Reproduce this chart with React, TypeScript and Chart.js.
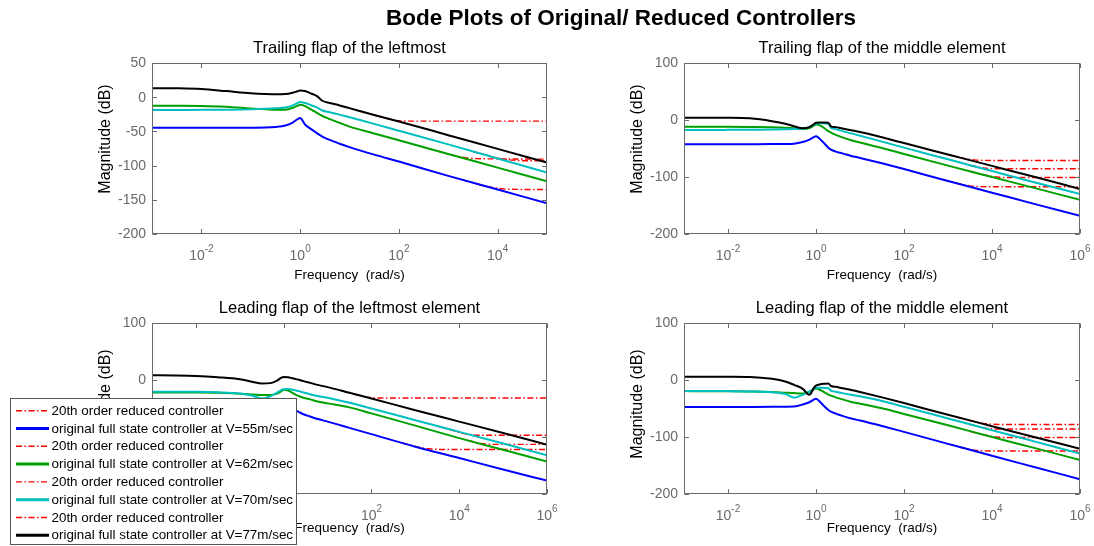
import React, { useEffect, useRef } from 'react';
import { Chart, registerables } from 'chart.js';
Chart.register(...registerables);

const FONT = '"Liberation Sans", Arial, Helvetica, sans-serif';

// Frequency grid (rad/s) shared by the original controllers
const freq = [0.001, 0.00316, 0.01, 0.0316, 0.1, 0.1995, 0.3162, 0.5012, 0.7079, 0.8913, 1, 1.2589, 1.5849, 1.9055, 2.1878, 2.8184, 3.981, 6.3096, 10, 31.62, 100, 1e3, 1e4, 1e5, 1e6];

// Trailing flap of the leftmost (magnitude dB)
const tlBlue = [-44.6, -44.6, -44.6, -44.5, -44.5, -44.3, -43.5, -41.5, -37, -32, -30.5, -40, -45.5, -49.5, -52.5, -57.5, -62.5, -68, -73, -84, -94, -115, -135, -155];
const tlGreen = [-12.4, -12.5, -12.8, -14, -16.5, -17.8, -18.5, -18.3, -15.5, -12.3, -11, -13, -17, -20.5, -23, -27.5, -32, -37.5, -43, -53, -63, -83, -103, -123];
const tlCyan = [-18.7, -18.6, -18.5, -18.3, -17.8, -17, -16.2, -15, -12, -8.5, -7.2, -8.5, -11, -13.3, -15, -19.5, -22, -25.5, -29.4, -39, -49, -69, -89.5, -110];
const tlBlack = [13.2, 13, 12, 9, 5.8, 4.6, 4.2, 4.5, 6.5, 8.8, 9.8, 9.2, 6, 3.8, 1.5, -5.2, -8.5, -12, -16, -26, -35.5, -55.5, -75.5, -95.5];
const tlRedBlueF = [2000, 3981, 7943, 15849, 1e5];
const tlRedBlue = [-121, -127, -132, -134.5, -135];
const tlRedGreenF = [631, 1259, 2512, 5012, 1e5];
const tlRedGreen = [-79, -85, -89, -90, -90.5];
const tlRedCyanF = [3162, 1e4, 2e4, 4e4, 1e5];
const tlRedCyan = [-79.5, -89, -92, -93, -93];
const tlRedBlackF = [15.8, 31.6, 63.1, 100, 200, 1e5];
const tlRedBlack = [-20, -26, -32, -34.5, -35, -35];

// Trailing flap of the middle element
const trBlue = [-42.7, -42.7, -42.6, -42.5, -42.3, -42, -41.5, -38.5, -34.5, -30, -28.5, -34, -42, -48.5, -52, -55.5, -58.5, -63, -66.5, -76, -86, -107, -127.5, -148, -168];
const trGreen = [-11.7, -11.8, -12, -12.3, -12.8, -13.5, -14.3, -15.5, -14, -10, -8, -10, -15, -19.5, -22, -26, -30.5, -35.5, -39.5, -49, -59.5, -80, -100, -120, -140];
const trCyan = [-17.5, -17.5, -17.3, -17, -16.7, -16.4, -16, -15, -12, -8, -6.5, -5.8, -6, -6.5, -13.5, -16, -19.5, -23.5, -27.5, -38, -48.5, -69, -89.5, -110, -130];
const trBlack = [4.1, 4.1, 4, 3, -2, -6.5, -11, -14.5, -12.5, -7.5, -5, -4.6, -4.6, -4.8, -11, -12.5, -15, -18, -21, -30.4, -40.5, -60.5, -80.5, -100.5, -121];
const trRedBlueF = [794, 1585, 3162, 7943, 1e6];
const trRedBlue = [-105, -111, -115.5, -117, -117];
const trRedGreenF = [3162, 6310, 12589, 31623, 1e6];
const trRedGreen = [-90, -96, -100, -101, -101];
const trRedCyanF = [3162, 6310, 12589, 1e6];
const trRedCyan = [-79.5, -84, -85.5, -85.5];
const trRedBlackF = [1000, 2000, 3981, 1e4, 1e6];
const trRedBlack = [-60.5, -66.5, -70, -71, -71];

// Leading flap of the leftmost element
const blBlue = [-46, -46, -46, -46, -46, -45.8, -45.3, -43, -39, -35, -33, -39, -47, -53, -56, -60, -64, -69, -73, -84, -95, -117, -137, -157, -176.5];
const blGreen = [-21.8, -21.8, -22, -22.5, -24, -25.3, -26.3, -26.5, -24, -19.5, -17, -18.5, -22.5, -26, -28, -31, -34, -38, -41, -48, -58.5, -80, -102, -122.5, -143];
const blCyan = [-20.7, -20.7, -20.8, -21.5, -23.5, -27.5, -32.5, -28.5, -22, -17.5, -16.3, -16, -17, -18.3, -19.5, -22, -25, -28.5, -31, -40, -50, -70.5, -91, -111.5, -132];
const blBlack = [8.3, 8, 7.2, 5, 1.5, -3.5, -6.3, -5.5, -1, 4, 5.3, 5, 3, 1.5, 0.5, -2, -5, -9, -12.5, -22.4, -32.5, -53, -73, -93, -113.5];
const blRedBlueF = [501, 1000, 1995, 5012, 1e6];
const blRedBlue = [-110.5, -116.5, -120.5, -122, -122];
const blRedGreenF = [15849, 31623, 63096, 1e6];
const blRedGreen = [-106, -111.5, -113, -113];
const blRedCyanF = [3162, 6310, 12589, 31623, 1e6];
const blRedCyan = [-81, -87.5, -94, -97, -97];
const blRedBlackF = [20, 39.8, 79.4, 158, 1e6];
const blRedBlack = [-18.5, -24.5, -30, -31.5, -31.5];

// Leading flap of the middle element
const brBlue = [-47.4, -47.4, -47.3, -47.2, -47, -46.8, -46.5, -43, -39, -34.5, -33, -39, -47, -52.5, -55.5, -59, -63, -67.5, -71, -80.7, -91, -112, -133, -153.5, -174];
const brGreen = [-19.5, -19.6, -19.8, -20.2, -21, -22.2, -23, -23.5, -20.5, -16.5, -15, -17.5, -22, -25.5, -27.5, -30.5, -34, -38.5, -41.5, -49.7, -59.5, -79.5, -100, -120, -140.4];
const brCyan = [-19.3, -19.3, -19.5, -20, -21.5, -24.5, -31, -26, -20.5, -15, -13.5, -13.5, -14, -14.6, -18.5, -20.5, -23, -26, -28.5, -37, -47, -67.5, -88, -108.5, -129];
const brBlack = [5.8, 5.8, 5.6, 5.2, 2, -2.5, -8.5, -15.5, -26, -14, -10, -7.5, -6.5, -6, -10.5, -12, -14.5, -17.5, -21, -30.5, -40.5, -61, -81, -101, -120.5];
const brRedBlueF = [1000, 1995, 3981, 1e4, 1e6];
const brRedBlue = [-112, -118.5, -123, -124.5, -124.5];
const brRedGreenF = [3162, 6310, 12589, 31623, 1e6];
const brRedGreen = [-90, -96, -100, -101, -101];
const brRedCyanF = [3162, 6310, 12589, 1e6];
const brRedCyan = [-78, -83.5, -86, -86];
const brRedBlackF = [1585, 3162, 6310, 15849, 1e6];
const brRedBlack = [-65, -71, -76, -78, -78];

// Axis ticks
const yTicksTL = [50, 0, -50, -100, -150, -200];
const yTicksOther = [100, 0, -100, -200];
const xDecadesTL = [-2, 0, 2, 4];
const xDecadesOther = [-2, 0, 2, 4, 6];

const legendLabels = [
  '20th order reduced controller',
  'original full state controller at V=55m/sec',
  '20th order reduced controller',
  'original full state controller at V=62m/sec',
  '20th order reduced controller',
  'original full state controller at V=70m/sec',
  '20th order reduced controller',
  'original full state controller at V=77m/sec',
];

const RED = '#ff0000';
const BLUE = '#0000ff';
const GREEN = '#00a000';
const CYAN = '#00bfbf';
const BLACK = '#000000';
const seriesColors = [RED, BLUE, RED, GREEN, RED, CYAN, RED, BLACK];
const DASH = [6, 2.5, 1.5, 2.5];

const W = 1094;
const H = 546;

function pts(f: number[], v: number[]) {
  return v.map((y, i) => ({ x: f[i], y }));
}

function buildDatasets(s: { f: number[]; v: number[] }[]) {
  return s.map((d, i) => {
    const isRed = i % 2 === 0;
    return {
      label: legendLabels[i],
      data: pts(d.f, d.v),
      borderColor: seriesColors[i],
      backgroundColor: seriesColors[i],
      borderWidth: isRed ? 1.4 : 2,
      borderDash: isRed ? DASH : [],
      pointRadius: 0,
      fill: false,
      order: 8 - i,
      cubicInterpolationMode: 'monotone' as const,
    };
  });
}

interface Panel {
  title: string;
  pad: { left: number; top: number; right: number; bottom: number };
  xMax: number;
  yMin: number;
  yMax: number;
  yTicks: number[];
  xDecades: number[];
  titleY: number;
  yLabelX: number;
  yLabelY: number;
  xLabelY: number;
  series: { f: number[]; v: number[] }[];
  mainTitle?: boolean;
  legend?: boolean;
}

const panels: Panel[] = [
  {
    title: 'Trailing flap of the leftmost',
    pad: { left: 152, top: 63, right: W - 547, bottom: H - 234 },
    xMax: 1e5, yMin: -200, yMax: 50, yTicks: yTicksTL, xDecades: xDecadesTL,
    titleY: 53, yLabelX: 106, yLabelY: 139, xLabelY: 275,
    series: [
      { f: tlRedBlueF, v: tlRedBlue }, { f: freq, v: tlBlue },
      { f: tlRedGreenF, v: tlRedGreen }, { f: freq, v: tlGreen },
      { f: tlRedCyanF, v: tlRedCyan }, { f: freq, v: tlCyan },
      { f: tlRedBlackF, v: tlRedBlack }, { f: freq, v: tlBlack },
    ],
    mainTitle: true,
  },
  {
    title: 'Trailing flap of the middle element',
    pad: { left: 684, top: 63, right: W - 1080, bottom: H - 234 },
    xMax: 1e6, yMin: -200, yMax: 100, yTicks: yTicksOther, xDecades: xDecadesOther,
    titleY: 53, yLabelX: 638, yLabelY: 139, xLabelY: 275,
    series: [
      { f: trRedBlueF, v: trRedBlue }, { f: freq, v: trBlue },
      { f: trRedGreenF, v: trRedGreen }, { f: freq, v: trGreen },
      { f: trRedCyanF, v: trRedCyan }, { f: freq, v: trCyan },
      { f: trRedBlackF, v: trRedBlack }, { f: freq, v: trBlack },
    ],
  },
  {
    title: 'Leading flap of the leftmost element',
    pad: { left: 152, top: 323, right: W - 547, bottom: H - 494 },
    xMax: 1e6, yMin: -200, yMax: 100, yTicks: yTicksOther, xDecades: xDecadesOther,
    titleY: 313, yLabelX: 106, yLabelY: 404, xLabelY: 528,
    series: [
      { f: blRedBlueF, v: blRedBlue }, { f: freq, v: blBlue },
      { f: blRedGreenF, v: blRedGreen }, { f: freq, v: blGreen },
      { f: blRedCyanF, v: blRedCyan }, { f: freq, v: blCyan },
      { f: blRedBlackF, v: blRedBlack }, { f: freq, v: blBlack },
    ],
    legend: true,
  },
  {
    title: 'Leading flap of the middle element',
    pad: { left: 684, top: 323, right: W - 1080, bottom: H - 494 },
    xMax: 1e6, yMin: -200, yMax: 100, yTicks: yTicksOther, xDecades: xDecadesOther,
    titleY: 313, yLabelX: 638, yLabelY: 404, xLabelY: 528,
    series: [
      { f: brRedBlueF, v: brRedBlue }, { f: freq, v: brBlue },
      { f: brRedGreenF, v: brRedGreen }, { f: freq, v: brGreen },
      { f: brRedCyanF, v: brRedCyan }, { f: freq, v: brCyan },
      { f: brRedBlackF, v: brRedBlack }, { f: freq, v: brBlack },
    ],
  },
];

const AXIS_COLOR = '#6a6a6a';
const TICK_TEXT = '#6a6a6a';

function decorPlugin(p: Panel) {
  return {
    id: 'decor',
    afterDatasetsDraw(chart: any) {
      const ctx: CanvasRenderingContext2D = chart.ctx;
      const a = chart.chartArea;
      const xs = chart.scales.x;
      const ys = chart.scales.y;
      ctx.save();
      // box
      ctx.strokeStyle = AXIS_COLOR;
      ctx.lineWidth = 1;
      ctx.setLineDash([]);
      const L = Math.round(a.left) + 0.5;
      const R = Math.round(a.right) - 0.5;
      const T = Math.round(a.top) + 0.5;
      const B = Math.round(a.bottom) - 0.5;
      ctx.strokeRect(L, T, R - L, B - T);
      // ticks
      const tl = 4.5;
      ctx.beginPath();
      p.xDecades.forEach((d) => {
        const x = Math.round(xs.getPixelForValue(Math.pow(10, d))) + 0.5;
        ctx.moveTo(x, B); ctx.lineTo(x, B - tl);
        ctx.moveTo(x, T); ctx.lineTo(x, T + tl);
      });
      p.yTicks.forEach((v) => {
        const y = Math.round(ys.getPixelForValue(v)) + 0.5;
        ctx.moveTo(L, y); ctx.lineTo(L + tl, y);
        ctx.moveTo(R, y); ctx.lineTo(R - tl, y);
      });
      ctx.stroke();
      // y tick labels
      ctx.fillStyle = TICK_TEXT;
      ctx.font = `14px ${FONT}`;
      ctx.textAlign = 'right';
      ctx.textBaseline = 'middle';
      p.yTicks.forEach((v) => {
        ctx.fillText(String(v), a.left - 6, ys.getPixelForValue(v) + 0.5);
      });
      // x tick labels 10^d
      ctx.textAlign = 'left';
      ctx.textBaseline = 'alphabetic';
      p.xDecades.forEach((d) => {
        const x = xs.getPixelForValue(Math.pow(10, d));
        ctx.font = `14px ${FONT}`;
        const w1 = ctx.measureText('10').width;
        ctx.font = `10px ${FONT}`;
        const sup = String(d);
        const w2 = ctx.measureText(sup).width;
        const x0 = x - (w1 + w2) / 2;
        const base = a.bottom + 25.5;
        ctx.font = `14px ${FONT}`;
        ctx.fillText('10', x0, base);
        ctx.font = `10px ${FONT}`;
        ctx.fillText(sup, x0 + w1, base - 7.5);
      });
      // axis labels
      ctx.fillStyle = '#000';
      ctx.textAlign = 'center';
      ctx.textBaseline = 'middle';
      ctx.font = `13.5px ${FONT}`;
      ctx.fillText('Frequency  (rad/s)', (a.left + a.right) / 2, p.xLabelY);
      ctx.save();
      ctx.translate(p.yLabelX, p.yLabelY);
      ctx.rotate(-Math.PI / 2);
      ctx.font = `16px ${FONT}`;
      ctx.fillText('Magnitude (dB)', 0, 0);
      ctx.restore();
      // subplot title
      ctx.textBaseline = 'alphabetic';
      ctx.font = `16.5px ${FONT}`;
      ctx.fillText(p.title, (a.left + a.right) / 2, p.titleY);
      if (p.mainTitle) {
        ctx.font = `bold 22.5px ${FONT}`;
        ctx.fillText('Bode Plots of Original/ Reduced Controllers', 621, 25);
      }
      ctx.restore();
    },
    afterDraw(chart: any) {
      if (!p.legend) return;
      const ctx: CanvasRenderingContext2D = chart.ctx;
      ctx.save();
      ctx.fillStyle = '#ffffff';
      ctx.fillRect(10.5, 398.5, 286, 146);
      ctx.strokeStyle = '#555';
      ctx.lineWidth = 1;
      ctx.setLineDash([]);
      ctx.strokeRect(10.5, 398.5, 286, 146);
      legendLabels.forEach((lab, i) => {
        const y = 410.7 + i * 17.8;
        const isRed = i % 2 === 0;
        ctx.beginPath();
        ctx.strokeStyle = seriesColors[i];
        ctx.lineWidth = isRed ? 1.4 : 3;
        ctx.setLineDash(isRed ? DASH : []);
        ctx.moveTo(16, y);
        ctx.lineTo(49, y);
        ctx.stroke();
        ctx.setLineDash([]);
        ctx.fillStyle = '#000';
        ctx.font = `13.4px ${FONT}`;
        ctx.textAlign = 'left';
        ctx.textBaseline = 'middle';
        ctx.fillText(lab, 51.5, y + 0.5);
      });
      ctx.restore();
    },
  };
}

function PanelChart({ p }: { p: Panel }) {
  const ref = useRef<HTMLCanvasElement | null>(null);
  useEffect(() => {
    if (!ref.current) return;
    const chart = new Chart(ref.current, {
      type: 'line',
      data: { datasets: buildDatasets(p.series) as any },
      options: {
        animation: false,
        responsive: false,
        maintainAspectRatio: false,
        devicePixelRatio: 1,
        events: [],
        layout: { padding: p.pad },
        plugins: {
          legend: { display: false },
          title: { display: false },
          tooltip: { enabled: false },
        },
        scales: {
          x: { type: 'logarithmic', min: 1e-3, max: p.xMax, display: false },
          y: { type: 'linear', min: p.yMin, max: p.yMax, display: false },
        },
      },
      plugins: [decorPlugin(p)],
    });
    return () => chart.destroy();
  }, [p]);
  return (
    <canvas
      ref={ref}
      width={W}
      height={H}
      style={{ position: 'absolute', left: 0, top: 0, width: W, height: H, pointerEvents: 'none' }}
    />
  );
}

export default function App() {
  return (
    <div style={{ position: 'absolute', left: 0, top: 0, width: W, height: H, overflow: 'hidden', background: '#fff' }}>
      {panels.map((p, i) => (
        <PanelChart key={i} p={p} />
      ))}
    </div>
  );
}
